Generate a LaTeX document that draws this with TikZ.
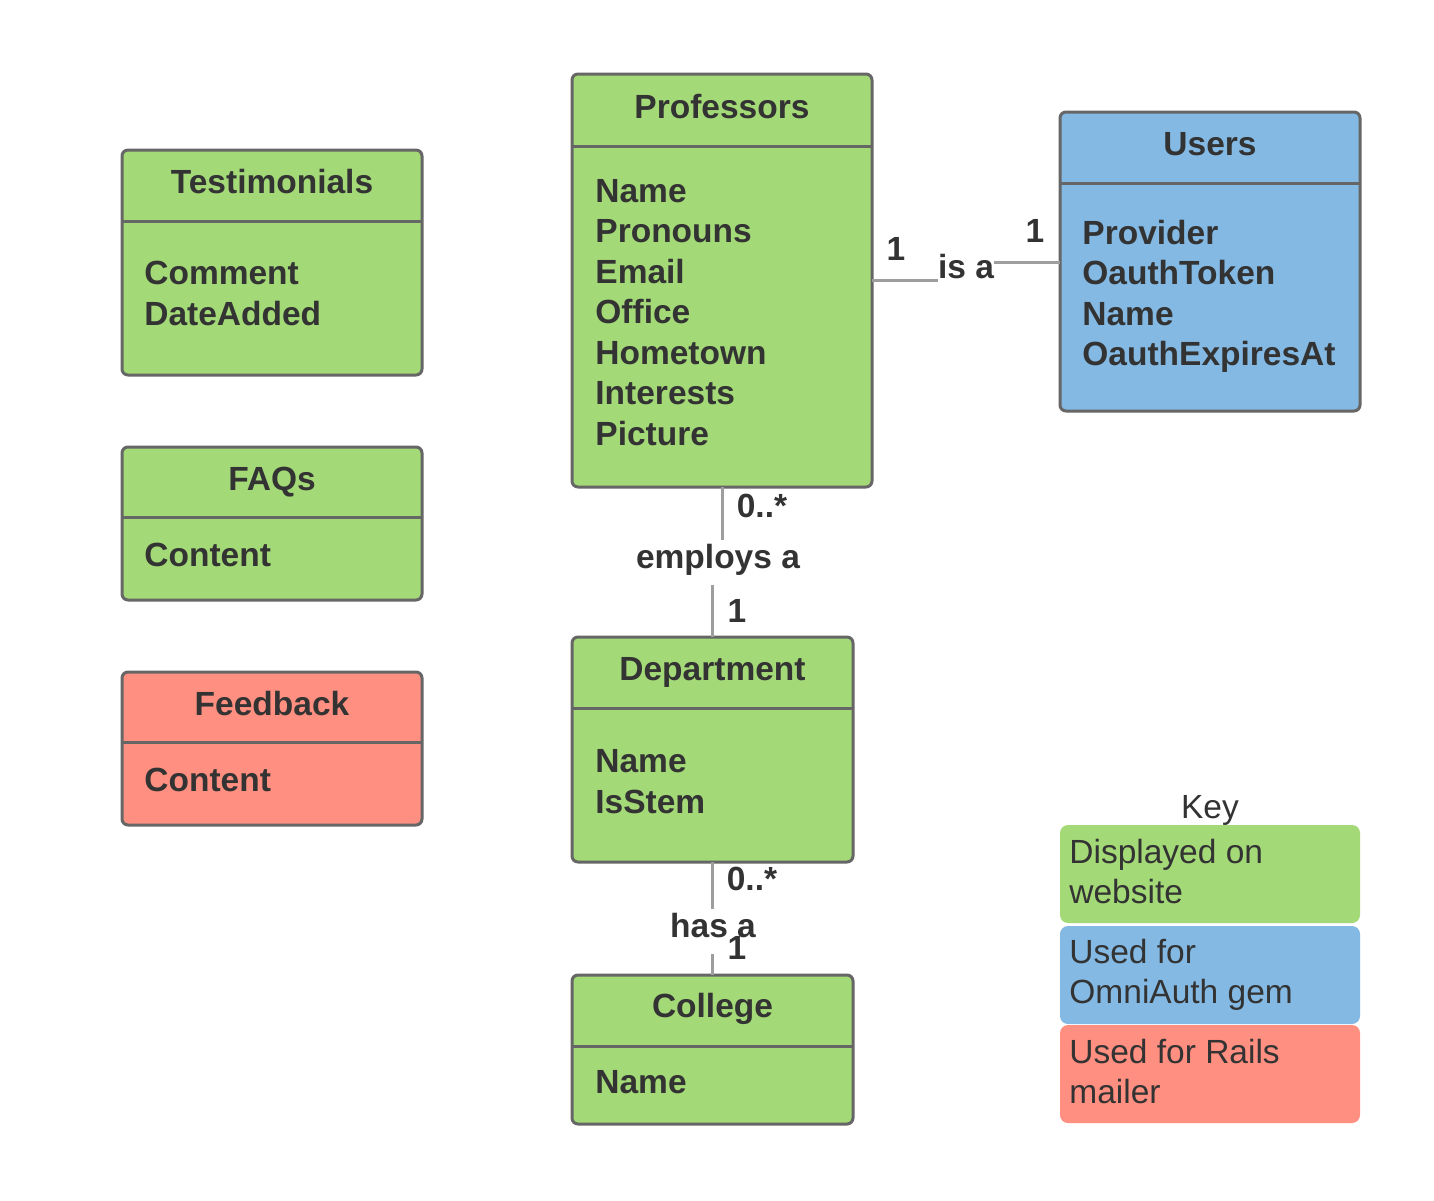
\documentclass[tikz,border=0pt]{standalone}
\usepackage{fontspec}
\setmainfont{Liberation Sans}
\usepackage{xcolor}
\definecolor{boxgreen}{HTML}{A3D977}
\definecolor{boxblue}{HTML}{83B9E3}
\definecolor{boxred}{HTML}{FF8F80}
\definecolor{edgegray}{HTML}{666666}
\definecolor{linkgray}{HTML}{9E9E9E}
\definecolor{inkgray}{HTML}{333333}

\begin{document}
\begin{tikzpicture}[x=0.5pt, y=-0.5pt,
  classbox/.style={draw=edgegray, line width=1.5pt, rounded corners=3pt, inner sep=0pt, outer sep=0pt},
  divider/.style={draw=edgegray, line width=1.5pt},
  boldtxt/.style={font=\fontsize{16.75}{20}\selectfont\bfseries, text=inkgray, inner sep=0pt, text height=12pt, text depth=0pt},
  attr/.style={boldtxt, anchor=west},
  link/.style={draw=linkgray, line width=1.5pt},
  linklabel/.style={font=\fontsize{16.75}{20}\selectfont\bfseries, text=inkgray, fill=white, inner sep=0pt, text height=14pt, text depth=8.5pt, anchor=base},
  keybox/.style={rounded corners=4pt, inner sep=0pt, minimum width=150pt, minimum height=49pt},
  keytxt/.style={font=\fontsize{16.75}{20}\selectfont, text=inkgray, inner sep=0pt, text height=12pt, text depth=0pt, anchor=west}]

  \fill[white] (0,0) rectangle (1434,1200);
  \useasboundingbox (0,0) rectangle (1434,1200);

  % Testimonials
  \node[classbox, fill=boxgreen, minimum width=150pt, minimum height=112.5pt] (testi) at (272,262.5) {};
  \draw[divider] (testi.west |- 0,221) -- (testi.east |- 0,221);
  \node[boldtxt] (testi-t) at (272,181) {Testimonials};
  \node[attr] (testi-0) at (144,272) {Comment};
  \node[attr] (testi-1) at (144,313) {DateAdded};

  % FAQs
  \node[classbox, fill=boxgreen, minimum width=150pt, minimum height=76.5pt] (faq) at (272,523.5) {};
  \draw[divider] (faq.west |- 0,517) -- (faq.east |- 0,517);
  \node[boldtxt] (faq-t) at (272,478) {FAQs};
  \node[attr] (faq-0) at (144,554) {Content};

  % Feedback
  \node[classbox, fill=boxred, minimum width=150pt, minimum height=76.5pt] (feed) at (272,748.5) {};
  \draw[divider] (feed.west |- 0,742) -- (feed.east |- 0,742);
  \node[boldtxt] (feed-t) at (272,703) {Feedback};
  \node[attr] (feed-0) at (144,779) {Content};

  % Professors
  \node[classbox, fill=boxgreen, minimum width=150pt, minimum height=206.5pt] (prof) at (722,280.5) {};
  \draw[divider] (prof.west |- 0,146) -- (prof.east |- 0,146);
  \node[boldtxt] (prof-t) at (722,106) {Professors};
  \foreach \t [count=\i from 0] in {Name,Pronouns,Email,Office,Hometown,Interests,Picture}
    \node[attr] (prof-\i) at (595,190+40.5*\i) {\t};

  % Users
  \node[classbox, fill=boxblue, minimum width=150pt, minimum height=149.5pt] (users) at (1210,261.5) {};
  \draw[divider] (users.west |- 0,183) -- (users.east |- 0,183);
  \node[boldtxt] (users-t) at (1210,143) {Users};
  \foreach \t [count=\i from 0] in {Provider,OauthToken,Name,OauthExpiresAt}
    \node[attr] (users-\i) at (1082,232+40.6*\i) {\t};

  % Department
  \node[classbox, fill=boxgreen, minimum width=140.5pt, minimum height=112.5pt] (dept) at (712.5,749.5) {};
  \draw[divider] (dept.west |- 0,708) -- (dept.east |- 0,708);
  \node[boldtxt] (dept-t) at (712.5,668) {Department};
  \node[attr] (dept-0) at (595,760) {Name};
  \node[attr] (dept-1) at (595,801) {IsStem};

  % College
  \node[classbox, fill=boxgreen, minimum width=140.5pt, minimum height=74.5pt] (coll) at (712.5,1049.5) {};
  \draw[divider] (coll.west |- 0,1046) -- (coll.east |- 0,1046);
  \node[boldtxt] (coll-t) at (712.5,1005) {College};
  \node[attr] (coll-0) at (595,1081) {Name};

  % associations
  \draw[link] (prof.east |- 0,280) -| (966,271) |- (users.west |- 0,262);
  \node[linklabel] (isa) at (966,278) {is a};
  \node[boldtxt] (isa-1) at (896,248) {1};
  \node[boldtxt] (isa-2) at (1035,230) {1};

  \draw[link] (prof.south) |- (717,562) -| (dept.north);
  \node[linklabel] (employs) at (718,568) {employs a};
  \node[boldtxt] (employs-1) at (762,505) {0..*};
  \node[boldtxt] (employs-2) at (737,610) {1};

  \draw[link] (dept.south) -- (coll.north);
  \node[linklabel] (hasa) at (713,937) {has a};
  \node[boldtxt] (hasa-1) at (752,878) {0..*};
  \node[boldtxt] (hasa-2) at (737,947) {1};

  % key
  \node[keytxt, anchor=center] (key) at (1210,806) {Key};
  \node[keybox, fill=boxgreen] (kgreen) at (1210,874) {};
  \node[keybox, fill=boxblue] (kblue) at (1210,975) {};
  \node[keybox, fill=boxred] (kred) at (1210,1074) {};
  \node[keytxt] (kgreen-0) at (1069,851) {Displayed on};
  \node[keytxt] (kgreen-1) at (1069,891) {website};
  \node[keytxt] (kblue-0) at (1069,951) {Used for};
  \node[keytxt] (kblue-1) at (1069,991) {OmniAuth gem};
  \node[keytxt] (kred-0) at (1069,1051) {Used for Rails};
  \node[keytxt] (kred-1) at (1069,1091) {mailer};
\end{tikzpicture}
\end{document}
